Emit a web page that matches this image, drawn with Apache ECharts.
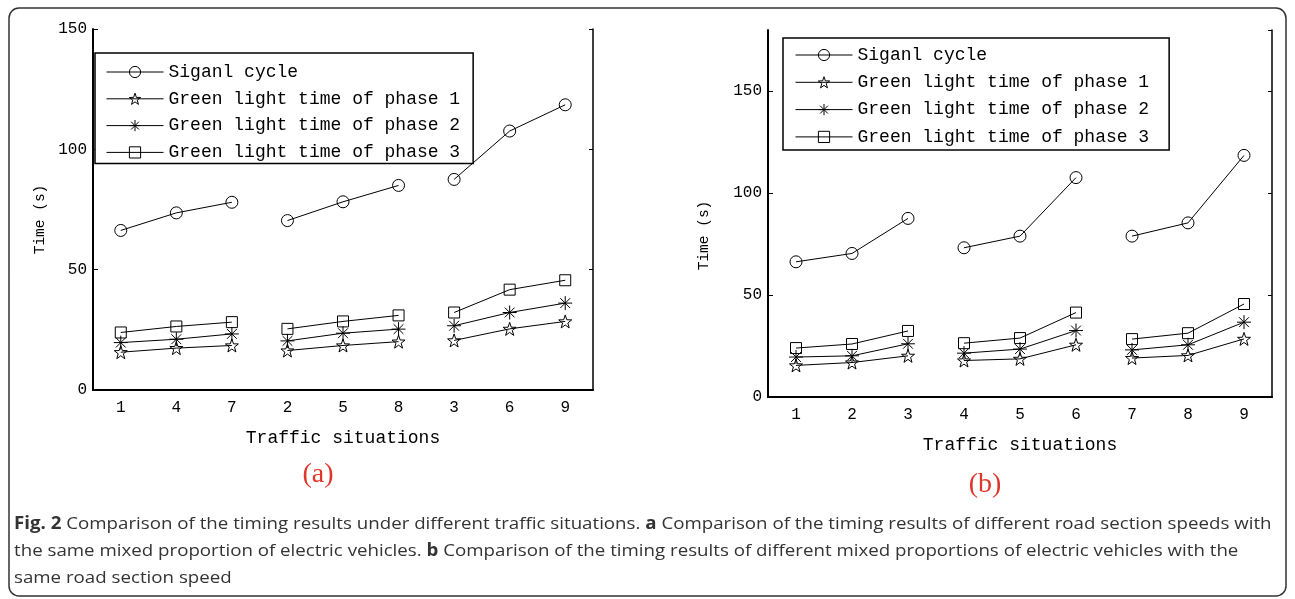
<!DOCTYPE html>
<html>
<head>
<meta charset="utf-8">
<script src="https://cdn.jsdelivr.net/npm/echarts@6/dist/echarts.min.js"></script>
<style>
  html, body { margin: 0; padding: 0; background: #fff; }
</style>
</head>
<body>
<!-- whole figure: two panels + caption -->
<div id="chart" style="width:1295px;height:599px;"></div>
<script>
// panel (a): situations grouped by road section speed
const catsA = ['1', '4', '7', '2', '5', '8', '3', '6', '9'];
const cycleA = [66.3, 73.6, 78.0, 70.4, 78.2, 85.0, 87.5, 107.6, 118.5];
const phase1A = [15.7, 17.4, 18.5, 16.4, 18.5, 20.1, 20.6, 25.4, 28.5];
const phase2A = [19.7, 21.1, 23.3, 20.4, 23.6, 25.3, 26.7, 32.2, 36.1];
const phase3A = [23.9, 26.4, 28.2, 25.4, 28.5, 31.0, 32.2, 41.7, 45.6];

// panel (b): situations grouped by mixed proportion
const catsB = ['1', '2', '3', '4', '5', '6', '7', '8', '9'];
const cycleB = [66.3, 70.4, 87.6, 73.2, 78.9, 107.6, 78.9, 85.4, 118.5];
const phase1B = [15.5, 16.9, 20.2, 17.9, 18.7, 25.6, 19.1, 20.4, 28.5];
const phase2B = [19.6, 20.2, 26.1, 21.5, 23.5, 32.6, 23.1, 25.6, 36.7];
const phase3B = [24.0, 26.0, 32.4, 26.4, 28.9, 41.4, 28.4, 31.3, 45.6];

const names = ['Siganl cycle', 'Green light time of phase 1', 'Green light time of phase 2', 'Green light time of phase 3'];

const FONT = 'Liberation Mono';
const STAR = 'path://M0,-10L2.35,-3.24L9.51,-3.09L3.8,1.24L5.88,8.09L0,4L-5.88,8.09L-3.8,1.24L-9.51,-3.09L-2.35,-3.24Z';
const ASTER = 'path://M0,-10L0,10M-10,0L10,0M-7,-7L7,7M-7,7L7,-7';

const marks = [
  { symbol: 'circle', symbolSize: 12 },
  { symbol: STAR, symbolSize: 13 },
  { symbol: ASTER, symbolSize: 14 },
  { symbol: 'rect', symbolSize: 11 }
];

// each line is drawn in 3 pieces (groups of three situations)
function buildSeries(values, k, axisIdx) {
  return [0, 3, 6].map(function (start) {
    return {
      type: 'line',
      name: names[k],
      xAxisIndex: axisIdx,
      yAxisIndex: axisIdx,
      data: values.map(function (v, i) { return (i >= start && i < start + 3) ? v : '-'; }),
      symbol: marks[k].symbol,
      symbolSize: marks[k].symbolSize,
      showAllSymbol: true,
      itemStyle: { color: 'rgba(0,0,0,0)', borderColor: '#000', borderWidth: 1 },
      lineStyle: { color: '#000', width: 1 },
      emphasis: { disabled: true },
      z: 3
    };
  });
}

function bottomX(cats, grid) {
  return {
    type: 'category', gridIndex: grid, data: cats, position: 'bottom',
    boundaryGap: true,
    axisLine: { lineStyle: { color: '#000', width: 2 } },
    axisTick: { inside: true, alignWithLabel: true, length: 4, lineStyle: { color: '#000' } },
    axisLabel: { color: '#000', fontFamily: FONT, fontSize: 16, margin: 10 },
    name: 'Traffic situations', nameLocation: 'middle', nameGap: 39,
    nameTextStyle: { color: '#000', fontFamily: FONT, fontSize: 18 }
  };
}
function topX(cats, grid) {
  return {
    type: 'category', gridIndex: grid, data: cats, position: 'top',
    boundaryGap: true,
    axisLine: { lineStyle: { color: '#000', width: 1.5 } },
    axisTick: { inside: true, alignWithLabel: true, length: 4, lineStyle: { color: '#000' } },
    axisLabel: { show: false }
  };
}
function leftY(grid, max, gap, shift, hideMax) {
  return {
    type: 'value', gridIndex: grid, position: 'left', min: 0, max: max, interval: 50,
    splitLine: { show: false },
    axisLine: { show: true, lineStyle: { color: '#000', width: 2 } },
    axisTick: { show: true, inside: true, length: 5, lineStyle: { color: '#000' } },
    axisLabel: { color: '#000', fontFamily: FONT, fontSize: 16, margin: 6, showMaxLabel: !hideMax },
    name: 'Time (s)', nameLocation: 'middle', nameGap: gap,
    nameTextStyle: { color: '#000', fontFamily: FONT, fontSize: 14.5, padding: [0, shift, 0, 0] }
  };
}
function rightY(grid, max) {
  return {
    type: 'value', gridIndex: grid, position: 'right', min: 0, max: max, interval: 50,
    splitLine: { show: false },
    axisLine: { show: true, lineStyle: { color: '#000', width: 1.5 } },
    axisTick: { show: true, inside: true, length: 4, lineStyle: { color: '#000' } },
    axisLabel: { show: false }
  };
}

function legendBox(left, top, pad, gap) {
  return {
    orient: 'vertical', left: left, top: top, data: names,
    itemWidth: 57, itemHeight: 14, itemGap: gap,
    padding: pad,
    borderColor: '#000', borderWidth: 1.5, borderRadius: 0,
    backgroundColor: '#fff',
    selectedMode: false,
    itemStyle: { color: 'rgba(0,0,0,0)', borderColor: '#000', borderWidth: 1 },
    lineStyle: { color: '#000', width: 1 },
    textStyle: { color: '#000', fontFamily: FONT, fontSize: 18 },
    z: 5
  };
}

const chart = echarts.init(document.getElementById('chart'));

const capRich = { b: { fontWeight: 'bold', fontFamily: 'Open Sans', fontSize: 17, color: '#222' } };

const option = {
  animation: false,
  backgroundColor: '#fff',
  grid: [
    { left: 93, top: 29, width: 500, height: 361 },
    { left: 768, top: 30, width: 504, height: 367 }
  ],
  xAxis: [bottomX(catsA, 0), topX(catsA, 0), bottomX(catsB, 1), topX(catsB, 1)],
  yAxis: [leftY(0, 150, 45, 20, false), rightY(0, 150), leftY(1, 180, 56, 44, true), rightY(1, 180)],
  legend: [
    legendBox(95, 53, [10, 13, 2, 11], 8.8),
    legendBox(783, 38, [8, 20, 4, 12], 9.3)
  ],
  series: [].concat(
    buildSeries(cycleA, 0, 0), buildSeries(phase1A, 1, 0),
    buildSeries(phase2A, 2, 0), buildSeries(phase3A, 3, 0),
    buildSeries(cycleB, 0, 2), buildSeries(phase1B, 1, 2),
    buildSeries(phase2B, 2, 2), buildSeries(phase3B, 3, 2)
  ),
  graphic: [
    {
      type: 'rect', silent: true, z: -1,
      shape: { x: 9, y: 8, width: 1277, height: 588, r: 10 },
      style: { fill: 'none', stroke: '#333', lineWidth: 1.5 }
    },
    {
      type: 'text', x: 318, y: 475,
      style: { text: '(a)', fill: '#e0352b', font: '28px "Liberation Serif"', align: 'center', verticalAlign: 'middle' }
    },
    {
      type: 'text', x: 985, y: 485,
      style: { text: '(b)', fill: '#e0352b', font: '28px "Liberation Serif"', align: 'center', verticalAlign: 'middle' }
    },
    {
      type: 'text', x: 14, y: 524, scaleX: 1.1,
      style: {
        text: '{b|Fig. 2} Comparison of the timing results under different traffic situations. {b|a} Comparison of the timing results of different road section speeds with',
        fill: '#333', fontFamily: 'Open Sans', fontSize: 17, verticalAlign: 'middle', rich: capRich
      }
    },
    {
      type: 'text', x: 14, y: 551, scaleX: 1.1,
      style: {
        text: 'the same mixed proportion of electric vehicles. {b|b} Comparison of the timing results of different mixed proportions of electric vehicles with the',
        fill: '#333', fontFamily: 'Open Sans', fontSize: 17, verticalAlign: 'middle', rich: capRich
      }
    },
    {
      type: 'text', x: 14, y: 578, scaleX: 1.1,
      style: { text: 'same road section speed', fill: '#333', fontFamily: 'Open Sans', fontSize: 17, verticalAlign: 'middle' }
    }
  ]
};

chart.setOption(option);
</script>
</body>
</html>
